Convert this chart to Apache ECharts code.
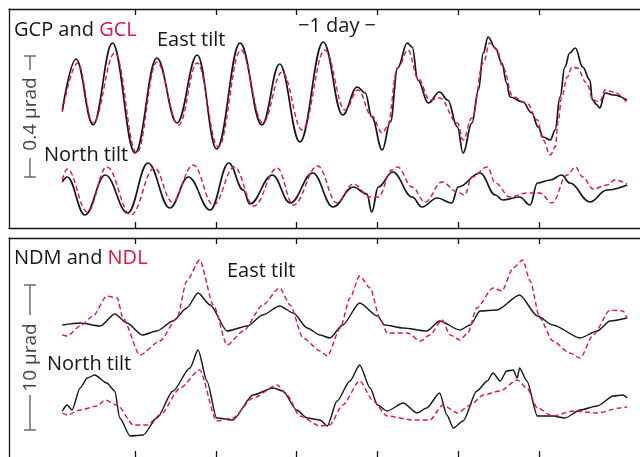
<!DOCTYPE html>
<html>
<head>
<meta charset="utf-8">
<script src="https://cdn.jsdelivr.net/npm/echarts@6.0.0/dist/echarts.min.js"></script>
<style>
  html, body { margin: 0; padding: 0; background: #fff; }
  #main { width: 640px; height: 457px; }
</style>
</head>
<body>
<div id="main"></div>
<script>
// time in days (0 = first tick), tilt in relative units (scale bars give µrad)
const dayTicks = [0, 1, 2, 3, 4, 5]

// GCP / GCL, east tilt
const gcpEastT = [-0.90, -0.73, -0.52, -0.28, 0.00, 0.27, 0.52, 0.77, 1.01, 1.30, 1.57, 1.79, 2.04, 2.33, 2.57, 2.75, 2.85, 2.93, 3.06, 3.16, 3.25, 3.37, 3.43, 3.50, 3.63, 3.77, 3.87, 3.99, 4.06, 4.17, 4.25, 4.31, 4.37, 4.46, 4.54, 4.60, 4.64, 4.80, 4.91, 4.99, 5.05, 5.14, 5.20, 5.26, 5.32, 5.38, 5.45, 5.54, 5.63, 5.66, 5.72, 5.75, 5.82, 5.92, 6.09]
const gcpEastV = [118, 169, 103, 185, 75, 170, 105, 173, 79, 185, 103, 164, 86, 186, 113, 141, 135, 111, 78, 106, 160, 185, 181, 148, 125, 136, 128, 101, 75, 105, 138, 175, 191, 180, 165, 145, 131, 126, 115, 101, 91, 88, 98, 131, 161, 175, 180, 161, 148, 128, 123, 120, 135, 133, 128]
const gclEastT = [-0.90, -0.71, -0.52, -0.25, 0.02, 0.27, 0.54, 0.77, 1.03, 1.31, 1.58, 1.82, 2.07, 2.35, 2.60, 2.76, 2.93, 3.06, 3.12, 3.25, 3.38, 3.50, 3.65, 3.77, 3.99, 4.06, 4.17, 4.31, 4.39, 4.48, 4.55, 4.68, 4.85, 4.98, 5.05, 5.14, 5.20, 5.24, 5.28, 5.35, 5.41, 5.47, 5.59, 5.67, 5.75, 5.82, 5.92, 6.09]
const gclEastV = [116, 165, 105, 175, 75, 166, 103, 165, 81, 178, 105, 156, 98, 178, 118, 138, 112, 95, 101, 160, 178, 150, 128, 130, 105, 88, 110, 165, 185, 178, 161, 131, 125, 108, 88, 73, 81, 108, 131, 151, 161, 160, 145, 128, 126, 138, 136, 125]

// GCP / GCL, north tilt
const gcpNorthT = [-0.90, -0.84, -0.62, -0.37, -0.09, 0.16, 0.43, 0.66, 0.93, 1.16, 1.34, 1.42, 1.70, 1.92, 2.20, 2.45, 2.70, 2.87, 2.93, 3.01, 3.19, 3.43, 3.55, 3.74, 3.92, 4.00, 4.27, 4.46, 4.55, 4.76, 4.89, 4.98, 5.14, 5.28, 5.38, 5.63, 5.84, 6.09]
const gcpNorthV = [46, 51, 13, 53, 15, 65, 20, 51, 18, 65, 38, 24, 53, 25, 55, 21, 41, 34, 16, 41, 56, 31, 21, 30, 25, 41, 55, 33, 28, 31, 23, 45, 48, 53, 45, 26, 38, 43]
const gclNorthT = [-0.90, -0.84, -0.59, -0.35, -0.05, 0.24, 0.46, 0.72, 0.97, 1.23, 1.47, 1.76, 1.96, 2.26, 2.50, 2.70, 2.91, 3.01, 3.18, 3.25, 3.43, 3.59, 3.80, 3.99, 4.08, 4.17, 4.36, 4.46, 4.64, 4.85, 5.01, 5.16, 5.35, 5.45, 5.54, 5.67, 5.84, 5.94, 6.09]
const gclNorthV = [48, 59, 16, 61, 13, 60, 26, 63, 23, 61, 22, 60, 23, 62, 25, 44, 31, 31, 58, 61, 41, 26, 46, 36, 33, 51, 61, 45, 31, 35, 35, 25, 53, 61, 51, 39, 43, 48, 44]

// NDM / NDL, east tilt
const ndmEastT = [-0.90, -0.68, -0.43, -0.25, -0.10, 0.09, 0.27, 0.47, 0.64, 0.78, 0.93, 1.14, 1.39, 1.58, 1.79, 1.96, 2.13, 2.29, 2.41, 2.57, 2.78, 3.00, 3.09, 3.32, 3.61, 3.77, 4.02, 4.15, 4.27, 4.48, 4.76, 4.98, 5.17, 5.51, 5.72, 5.88, 6.09]
const ndmEastV = [132, 134, 131, 143, 134, 122, 126, 136, 149, 164, 152, 126, 131, 142, 151, 144, 129, 122, 119, 132, 154, 141, 132, 129, 126, 136, 127, 132, 146, 147, 162, 141, 132, 119, 126, 136, 139]
const ndlEastT = [-0.90, -0.84, -0.68, -0.52, -0.35, -0.22, -0.15, 0.06, 0.31, 0.52, 0.64, 0.80, 0.97, 1.14, 1.34, 1.58, 1.79, 1.92, 2.08, 2.29, 2.38, 2.54, 2.66, 2.78, 2.91, 3.03, 3.12, 3.37, 3.53, 3.65, 3.80, 3.90, 4.02, 4.12, 4.23, 4.43, 4.54, 4.68, 4.80, 4.89, 5.01, 5.17, 5.38, 5.51, 5.67, 5.88, 6.04, 6.09]
const ndlEastV = [122, 121, 131, 141, 161, 159, 139, 102, 116, 139, 176, 197, 152, 112, 126, 152, 169, 152, 119, 106, 101, 129, 159, 181, 169, 139, 124, 124, 116, 122, 137, 122, 117, 124, 149, 169, 166, 189, 197, 176, 139, 116, 104, 99, 122, 147, 146, 139]

// NDM / NDL, north tilt
const ndmNorthT = [-0.90, -0.84, -0.78, -0.68, -0.59, -0.50, -0.35, -0.25, -0.19, -0.06, 0.10, 0.27, 0.47, 0.68, 0.78, 0.89, 1.01, 1.21, 1.46, 1.71, 1.83, 2.00, 2.13, 2.29, 2.38, 2.50, 2.66, 2.78, 2.91, 3.00, 3.12, 3.32, 3.49, 3.61, 3.77, 3.86, 3.94, 4.06, 4.23, 4.36, 4.43, 4.52, 4.60, 4.68, 4.73, 4.76, 4.85, 4.98, 5.17, 5.32, 5.51, 5.72, 5.92, 6.04, 6.09]
const ndmNorthV = [46, 52, 47, 69, 79, 82, 74, 66, 39, 21, 22, 39, 66, 89, 107, 76, 39, 37, 62, 69, 66, 47, 39, 37, 31, 56, 76, 92, 69, 52, 46, 54, 44, 49, 64, 42, 29, 36, 66, 76, 84, 76, 86, 87, 79, 89, 76, 41, 41, 39, 47, 51, 61, 62, 59]
const ndlNorthT = [-0.90, -0.84, -0.68, -0.47, -0.37, -0.22, -0.02, 0.15, 0.31, 0.56, 0.80, 1.01, 1.21, 1.46, 1.76, 1.88, 2.04, 2.29, 2.41, 2.57, 2.78, 2.95, 3.12, 3.44, 3.65, 3.81, 3.99, 4.15, 4.31, 4.52, 4.73, 4.85, 4.98, 5.17, 5.42, 5.72, 6.00, 6.09]
const ndlNorthV = [44, 42, 47, 51, 57, 52, 32, 32, 42, 69, 87, 36, 39, 59, 72, 62, 41, 31, 32, 52, 76, 56, 41, 37, 37, 52, 44, 52, 62, 66, 77, 69, 49, 41, 46, 44, 49, 50]

const BLACK = '#151515'
const RED = '#e2163c'
const GRAY = '#555'
const FONT = '"Open Sans", "Noto Sans", sans-serif'

const zip = (t, v) => t.map((x, i) => [x, v[i]])

function line(grid, t, v, dashed) {
  return {
    type: 'line',
    xAxisIndex: grid * 2,
    yAxisIndex: grid,
    data: zip(t, v),
    symbol: 'none',
    smooth: grid === 0 ? 0.4 : 0.25,
    smoothMonotone: 'x',
    z: dashed ? 3 : 2,
    lineStyle: {
      color: dashed ? RED : BLACK,
      width: dashed ? 1.4 : (grid === 0 ? 1.7 : 1.4),
      type: dashed ? [5, 3] : 'solid'
    }
  }
}

function xAx(grid, pos, showLine) {
  return {
    type: 'value',
    gridIndex: grid,
    position: pos,
    min: -1.56,
    max: 6.25,
    axisLine: {show: showLine, onZero: false, lineStyle: {color: BLACK, width: 1.3}},
    axisTick: {show: true, inside: true, length: 6, customValues: dayTicks, lineStyle: {color: BLACK, width: 1.3}},
    axisLabel: {show: false},
    splitLine: {show: false}
  }
}

function yAx(grid) {
  return {
    type: 'value',
    gridIndex: grid,
    min: 0,
    max: 219,
    axisLine: {show: true, onZero: false, lineStyle: {color: BLACK, width: 1.3}},
    axisTick: {show: false},
    axisLabel: {show: false},
    splitLine: {show: false}
  }
}

function label(x, y, text, align) {
  return {
    type: 'text', x: x, y: y,
    style: {text: text, font: '20px ' + FONT, fill: BLACK, textAlign: align || 'left', textVerticalAlign: 'middle'}
  }
}

function pairLabel(x, y, a, b) {
  return {
    type: 'text', x: x, y: y,
    style: {
      text: '{a|' + a + ' and }{b|' + b + '}',
      textVerticalAlign: 'middle',
      rich: {
        a: {fill: BLACK, font: '20px ' + FONT},
        b: {fill: RED, font: '20px ' + FONT}
      }
    }
  }
}

function seg(x1, y1, x2, y2) {
  return {type: 'line', shape: {x1, y1, x2, y2}, style: {stroke: GRAY, lineWidth: 1.3}}
}

function scaleBar(top, gapTop, gapBottom, bottom, textY, text) {
  return [
    seg(24, top, 36, top),
    seg(30, top, 30, gapTop),
    seg(30, gapBottom, 30, bottom),
    seg(24, bottom, 36, bottom),
    {
      type: 'text', x: 31, y: textY, rotation: Math.PI / 2,
      style: {text: text, font: '19px ' + FONT, fill: '#444', textAlign: 'center', textVerticalAlign: 'middle'}
    }
  ]
}

const chart = echarts.init(document.getElementById('main'))
chart.setOption({
  animation: false,
  backgroundColor: '#fff',
  grid: [
    {left: 9, right: 0, top: 9, height: 219},
    {left: 9, right: 0, top: 238, height: 219}
  ],
  xAxis: [xAx(0, 'bottom', true), xAx(0, 'top', true), xAx(1, 'bottom', false), xAx(1, 'top', true)],
  yAxis: [yAx(0), yAx(1)],
  series: [
    line(0, gcpEastT, gcpEastV, false),
    line(0, gclEastT, gclEastV, true),
    line(0, gcpNorthT, gcpNorthV, false),
    line(0, gclNorthT, gclNorthV, true),
    line(1, ndmEastT, ndmEastV, false),
    line(1, ndlEastT, ndlEastV, true),
    line(1, ndmNorthT, ndmNorthV, false),
    line(1, ndlNorthT, ndlNorthV, true)
  ],
  graphic: [
    pairLabel(14, 30.5, 'GCP', 'GCL'),
    label(157, 40.5, 'East tilt'),
    label(44, 155.5, 'North tilt'),
    label(337, 26, '\u22121 day \u2212', 'center'),
    pairLabel(14, 258, 'NDM', 'NDL'),
    label(227, 271.5, 'East tilt'),
    label(47, 364, 'North tilt'),
    ...scaleBar(56, 70, 158, 177, 114, '0.4 \u00b5rad'),
    ...scaleBar(285, 315, 395, 430, 357.5, '10 \u00b5rad')
  ]
})
</script>
</body>
</html>
